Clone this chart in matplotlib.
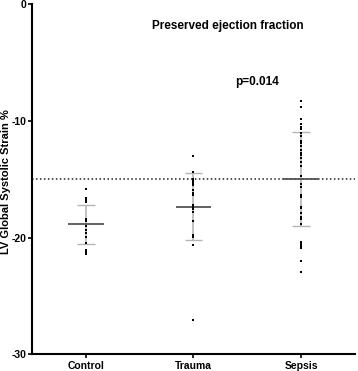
import matplotlib
matplotlib.use("Agg")
import matplotlib.pyplot as plt
import numpy as np

plt.rcParams['font.family'] = ['Liberation Sans', 'DejaVu Sans']

categories = ["Control", "Trauma", "Sepsis"]
control = [-15.87, -16.58, -16.78, -16.95, -18.43, -18.58, -18.98, -19.35,
           -19.63, -19.97, -20.44, -21.06, -21.23, -21.40]
trauma = [-13.01, -14.41, -15.01, -15.18, -15.35, -15.52, -15.92, -16.15,
          -16.35, -17.21, -17.41, -17.58, -17.78, -18.58, -19.78, -19.92,
          -20.63, -27.1]
sepsis = [-8.28, -8.85, -9.85, -10.3, -10.5, -10.7, -11.02, -11.3, -11.73,
          -11.93, -12.16, -12.5, -12.73, -12.95, -13.21, -13.5, -13.87,
          -14.7, -15.44, -15.64, -16.35, -16.5, -17.35, -17.5, -17.92,
          -18.21, -18.43, -18.86, -20.35, -20.55, -20.72, -20.86, -22.0, -22.92]
means = [-18.86, -17.41, -14.98]
sd_upper = [-17.18, -14.5, -10.98]
sd_lower = [-20.55, -20.2, -19.0]
reference_line = -15
y_ticks = [0, -10, -20, -30]
title = "Preserved ejection fraction"
p_text = "p=0.014"
ylabel = "LV Global Systolic Strain %"

fig = plt.figure(figsize=(3.58, 3.71), dpi=100)
ax = fig.add_axes([0.089, 0.045, 0.903, 0.944])

groups = [control, trauma, sepsis]
for i, g in enumerate(groups):
    ax.vlines(i, sd_lower[i], sd_upper[i], color="#b5b5b5", lw=1.2, zorder=1)
    ax.hlines([sd_upper[i], sd_lower[i]], i - 0.083, i + 0.083, color="#b5b5b5", lw=1.0, zorder=1)
    ax.hlines(means[i], i - 0.165, i + 0.165, color="#555555", lw=1.3, zorder=2)
    ax.scatter(np.full(len(g), i), g, marker="s", s=3.5, color="black", zorder=3, linewidths=0)

ax.axhline(reference_line, color="#222222", lw=1.1, ls=(0, (1, 1.6)), zorder=0)

ax.set_xlim(-0.5, 2.5)
ax.set_ylim(-30, 0)
ax.set_yticks(y_ticks)
ax.set_yticklabels([str(t) for t in y_ticks], fontsize=7.5, fontweight="bold")
ax.set_xticks(range(len(categories)))
ax.set_xticklabels(categories, fontsize=7.5, fontweight="bold")
ax.tick_params(axis="y", length=3, width=1.2, pad=1)
ax.tick_params(axis="x", length=3, width=1.2, pad=1.5)
for s in ["top", "right"]:
    ax.spines[s].set_visible(False)
for s in ["left", "bottom"]:
    ax.spines[s].set_linewidth(1.5)

fig.text(6 / 358, 1 - 182 / 371, ylabel, fontsize=8, fontweight="bold",
         rotation=90, ha="center", va="center")
ax.text(1.315, -1.88, title, fontsize=8.5, fontweight="bold", ha="center", va="center")
ax.text(1.59, -6.68, p_text, fontsize=8.5, fontweight="bold", ha="center", va="center")

fig.savefig("out.png", dpi=100)
